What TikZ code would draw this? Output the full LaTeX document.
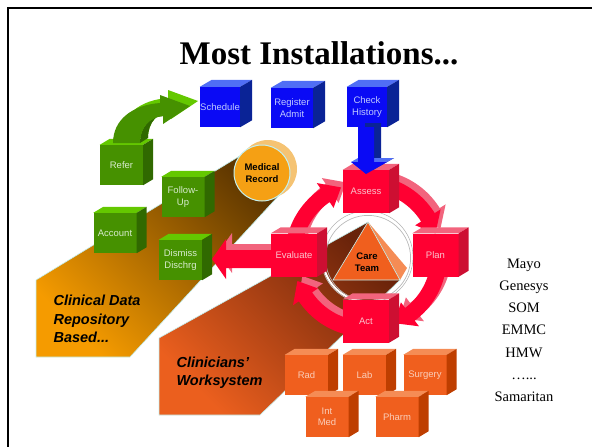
\documentclass[tikz,border=0pt]{standalone}
\usepackage{fontspec}
\setmainfont{Liberation Serif}
\newfontfamily\arialfont{Liberation Sans}
\definecolor{bF}{RGB}{10,10,245}
\definecolor{bT}{RGB}{80,110,245}
\definecolor{bS}{RGB}{10,35,150}
\definecolor{bTx}{RGB}{190,200,255}
\definecolor{rF}{RGB}{255,0,50}
\definecolor{rT}{RGB}{242,100,125}
\definecolor{rS}{RGB}{205,15,50}
\definecolor{rTx}{RGB}{250,195,205}
\definecolor{gF}{RGB}{70,145,0}
\definecolor{gT}{RGB}{100,200,0}
\definecolor{gS}{RGB}{48,105,0}
\definecolor{gTx}{RGB}{215,235,205}
\definecolor{oF}{RGB}{240,95,30}
\definecolor{oT}{RGB}{245,140,85}
\definecolor{oS}{RGB}{190,62,0}
\definecolor{oTx}{RGB}{250,205,185}
\definecolor{beamAL}{RGB}{245,155,0}
\definecolor{beamAD}{RGB}{95,55,0}
\definecolor{beamBL}{RGB}{235,95,30}
\definecolor{beamBD}{RGB}{105,35,10}
\definecolor{mrF}{RGB}{245,160,20}
\definecolor{mrH}{RGB}{245,195,115}
\definecolor{edgeC}{RGB}{195,240,240}
\newcommand\cubefaces[4]{%
  \fill[#2] (#1.north west) -- ++(#4) -- ([shift={(#4)}]#1.north east) -- (#1.north east) -- cycle;
  \fill[#3] (#1.north east) -- ++(#4) -- ([shift={(#4)}]#1.south east) -- (#1.south east) -- cycle;}
\newcommand\ringarrow[3]{%
  \pgfmathsetmacro\rb{#2-14}%
  \fill[#3] plot[domain=#1:\rb,samples=24] ({366+81*cos(\x)},{256+81*sin(\x)})
    -- ({366+88*cos(\rb)},{256+88*sin(\rb)})
    -- ({366+73*cos(#2)},{256+73*sin(#2)})
    -- ({366+58*cos(\rb)},{256+58*sin(\rb)})
    -- plot[domain=\rb:#1,samples=24] ({366+65*cos(\x)},{256+65*sin(\x)}) -- cycle;}
\newcommand\bluearrowpath{(358,127) -- (374,127) -- (374,162) -- (387,162) -- (366,174) -- (351,162) -- (358,162) -- cycle}
\newcommand\redleftpath{(272,250) -- (226,250) -- (226,239) -- (212,259) -- (226,279) -- (226,268) -- (272,268) -- cycle}
\newcommand\greenarrowpath{(113,143) .. controls (113,120) and (132,105) .. (160,103) -- (160,95) -- (190,106) -- (163,124) -- (163,116) .. controls (150,117) and (140,127) .. (140,143) -- cycle}
\begin{document}
\begin{tikzpicture}[x=1pt,y=-1pt,
  cubebox/.style={rectangle, inner sep=0pt, align=center, font=\arialfont\fontsize{9.5}{11.5}\selectfont},
  bluecube/.style={cubebox, fill=bF, text=bTx, minimum width=40pt, minimum height=40pt},
  redcube/.style={cubebox, fill=rF, text=rTx, minimum width=46pt, minimum height=43pt},
  greencube/.style={cubebox, fill=gF, text=gTx, minimum width=43pt, minimum height=40pt},
  orangecube/.style={cubebox, fill=oF, text=oTx, minimum width=43pt, minimum height=40pt},
  beamlabel/.style={align=left, anchor=west, font=\arialfont\bfseries\itshape\fontsize{14.5}{18.5}\selectfont},
  listitem/.style={anchor=base, font=\fontsize{14.5}{16}\selectfont}]
\useasboundingbox (0,0) rectangle (592,447);
% frame
\draw[line width=2.6pt] (8,447) -- (8,8) -- (592,8);
% title
\node[anchor=base, font=\bfseries\fontsize{33}{36}\selectfont] (title) at (319,64) {Most Installations...};
% beam 1
\shade[top color=beamAD, bottom color=beamAL, shading angle=-45, draw=edgeC, line width=0.6pt]
  (36,280) -- (248,151) -- (283,191) -- (130,357) -- (36,357) -- cycle;
% medical record
\fill[mrH] (268,169) circle (29);
\node[circle, minimum size=56pt, inner sep=0pt, fill=mrF, draw=edgeC, line width=1pt, align=center,
  font=\arialfont\bfseries\fontsize{9.5}{11.5}\selectfont] (medrec) at (262,173) {Medical\\Record};
% green cubes
\node[greencube] (refer) at (121.5,165) {Refer};
\cubefaces{refer}{gT}{gS}{10,-6}
\node[greencube] (follow) at (183,197) {Follow-\\Up};
\cubefaces{follow}{gT}{gS}{10,-6}
\node[greencube] (account) at (115,233) {Account};
\cubefaces{account}{gT}{gS}{10,-6}
\node[greencube] (dismiss) at (180.5,260) {Dismiss\\Dischrg};
\cubefaces{dismiss}{gT}{gS}{10,-6}
% green curved arrow
\fill[gT, shift={(8,-5)}] \greenarrowpath;
\fill[gS] (140,143) .. controls (140,127) and (150,117) .. (163,116) -- (171,111) .. controls (158,112) and (148,122) .. (148,138) -- cycle;
\fill[gF] \greenarrowpath;
% blue cubes
\node[bluecube] (sched) at (220,107) {Schedule};
\cubefaces{sched}{bT}{bS}{12,-7}
\node[bluecube, minimum width=42pt] (register) at (292,108) {Register\\Admit};
\cubefaces{register}{bT}{bS}{12,-7}
\node[bluecube] (check) at (367,107) {Check\\History};
\cubefaces{check}{bT}{bS}{12,-7}
% beam 2
\shade[top color=beamBD, bottom color=beamBL, shading angle=-45, draw=edgeC, line width=0.6pt]
  (159,338) -- (368,222) -- (400,280) -- (260,415) -- (159,415) -- cycle;
% ring arrows
\begin{scope}[shift={(5,-5)}]
  \ringarrow{-80}{-18}{rT}
  \ringarrow{10}{67}{rT}
  \ringarrow{100}{160}{rT}
  \ringarrow{190}{250}{rT}
\end{scope}
\ringarrow{-80}{-18}{rF}
\ringarrow{10}{67}{rF}
\ringarrow{100}{160}{rF}
\ringarrow{190}{250}{rF}
% care team
\draw[gray!55, line width=0.7pt] (367,257) circle (46);
\draw[white, line width=2pt] (367,257) circle (44.4);
\draw[gray!55, line width=0.7pt] (368,258) circle (42.6);
\fill[oT] (368,222) -- (407,268) -- (400,280) -- cycle;
\filldraw[fill=oF, draw=edgeC, line width=0.6pt] (368,222) -- (400,280) -- (333,280) -- cycle;
\node[align=center, font=\arialfont\bfseries\fontsize{9.5}{11.5}\selectfont] (care) at (367,262) {Care\\Team};
% red arrow to dismiss
\fill[rT, shift={(6,-6)}] \redleftpath;
\fill[rF] \redleftpath;
% red cubes
\node[redcube] (assess) at (366,191.5) {Assess};
\cubefaces{assess}{rT}{rS}{10,-6}
\node[redcube] (evaluate) at (294,255) {Evaluate};
\cubefaces{evaluate}{rT}{rS}{10,-6}
\node[redcube] (plan) at (435.5,255) {Plan};
\cubefaces{plan}{rT}{rS}{10,-6}
\node[redcube] (act) at (366,321) {Act};
\cubefaces{act}{rT}{rS}{10,-6}
% blue arrow
\fill[bS, shift={(7,-4)}] \bluearrowpath;
\fill[bT] (351,162) -- (358,158) -- (394,158) -- (387,162) -- cycle;
\fill[bF] \bluearrowpath;
% orange cubes
\node[orangecube] (rad) at (306.5,375) {Rad};
\cubefaces{rad}{oT}{oS}{10,-6}
\node[orangecube] (lab) at (364.5,375) {Lab};
\cubefaces{lab}{oT}{oS}{10,-6}
\node[orangecube] (surgery) at (425,375) {Surgery};
\cubefaces{surgery}{oT}{oS}{10,-6}
\node[orangecube] (intmed) at (327,417) {Int\\Med};
\cubefaces{intmed}{oT}{oS}{10,-6}
\node[orangecube] (pharm) at (397,417) {Pharm};
\cubefaces{pharm}{oT}{oS}{10,-6}
% beam labels
\node[beamlabel] (cdr) at (50,319) {Clinical Data\\Repository\\Based...};
\node[beamlabel] (cws) at (173,372.5) {Clinicians’\\Worksystem};
% list
\node[listitem] (l1) at (524,268) {Mayo};
\node[listitem] (l2) at (524,290.3) {Genesys};
\node[listitem] (l3) at (524,312.6) {SOM};
\node[listitem] (l4) at (524,334.9) {EMMC};
\node[listitem] (l5) at (524,357.2) {HMW};
\node[listitem] (l6) at (524,379.5) {…...};
\node[listitem] (l7) at (524,401.8) {Samaritan};
\end{tikzpicture}
\end{document}
